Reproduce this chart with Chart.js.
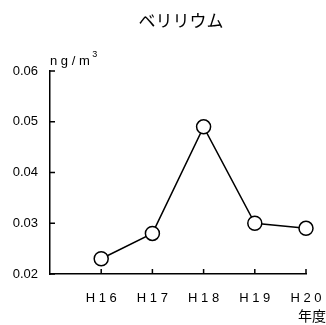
<!DOCTYPE html>
<html>
<head>
<meta charset="utf-8">
<script src="https://cdn.jsdelivr.net/npm/chart.js@4"></script>
<style>
  html, body { margin: 0; padding: 0; background: #fff; }
  #wrap { width: 326px; height: 325px; }
</style>
</head>
<body>
<div id="wrap"><canvas id="lineChart"></canvas></div>
<script>
'use strict'

// Chart data
var title = 'ベリリウム';
var unitLabel = 'ng/m';
var xTitle = '年度';
var years = ['', 'H16', 'H17', 'H18', 'H19', 'H20'];
var beryllium = [null, 0.023, 0.028, 0.049, 0.030, 0.029];
var yTicks = [0.02, 0.03, 0.04, 0.05, 0.06];

var spaced = function(s) { return s.split('').join(' '); };

// Draws title, unit, axis name and inward tick marks
var decorations = {
  id: 'decorations',
  afterDraw: function(chart) {
    var ctx = chart.ctx;
    var area = chart.chartArea;
    var x = chart.scales.x;
    var y = chart.scales.y;
    ctx.save();
    ctx.fillStyle = '#000';
    ctx.textBaseline = 'middle';

    ctx.font = '17px "Noto Sans CJK JP"';
    ctx.textAlign = 'center';
    ctx.fillText(title, (area.left + area.right) / 2 + 3, 21);

    ctx.font = '13px "Liberation Sans"';
    ctx.textAlign = 'left';
    ctx.fillText(spaced(unitLabel), area.left, 61);
    var w = ctx.measureText(spaced(unitLabel) + ' ').width;
    ctx.font = '9px "Liberation Sans"';
    ctx.fillText('3', area.left + w - 1, 55);

    ctx.font = '14px "Noto Sans CJK JP"';
    ctx.textAlign = 'right';
    ctx.fillText(xTitle, 326, 316);

    ctx.strokeStyle = '#000';
    ctx.lineWidth = 1.5;
    ctx.beginPath();
    yTicks.forEach(function(v) {
      var py = y.getPixelForValue(v);
      ctx.moveTo(area.left, py);
      ctx.lineTo(area.left + 5, py);
    });
    for (var i = 1; i < years.length; i++) {
      var px = x.getPixelForValue(i);
      ctx.moveTo(px, area.bottom);
      ctx.lineTo(px, area.bottom - 5);
    }
    ctx.stroke();
    ctx.restore();
  }
};

var chart = new Chart(document.getElementById('lineChart'), {
  type: 'line',
  data: {
    labels: years,
    datasets: [{
      label: title,
      data: beryllium,
      borderColor: '#000',
      borderWidth: 1.5,
      lineTension: 0,
      pointRadius: 7,
      pointBackgroundColor: '#fff',
      pointBorderColor: '#000',
      pointBorderWidth: 1.5
    }]
  },
  options: {
    responsive: true,
    maintainAspectRatio: false,
    animation: false,
    layout: { padding: { top: 71, right: 20, left: 0, bottom: 0 } },
    plugins: {
      legend: { display: false },
      tooltip: { enabled: false }
    },
    scales: {
      x: {
        offset: false,
        grid: { display: false, drawTicks: false },
        border: { color: '#000', width: 1.5 },
        ticks: {
          color: '#000',
          padding: 17,
          maxRotation: 0,
          autoSkip: false,
          font: { family: 'Liberation Sans', size: 13 },
          callback: function(v, i) { return spaced(years[i]); }
        },
        afterFit: function(s) {
          s.height = 51;
          s.paddingLeft = 0;
          s.paddingRight = 0;
        }
      },
      y: {
        min: 0.02,
        max: 0.06,
        grid: { display: false, drawTicks: false },
        border: { color: '#000', width: 1.5 },
        ticks: {
          color: '#000',
          padding: 12,
          stepSize: 0.01,
          font: { family: 'Liberation Sans', size: 13 },
          callback: function(v) { return v.toFixed(2); }
        },
        afterFit: function(s) {
          s.width = 50;
          s.paddingTop = 0;
          s.paddingBottom = 0;
        }
      }
    }
  },
  plugins: [decorations]
});
</script>
</body>
</html>
